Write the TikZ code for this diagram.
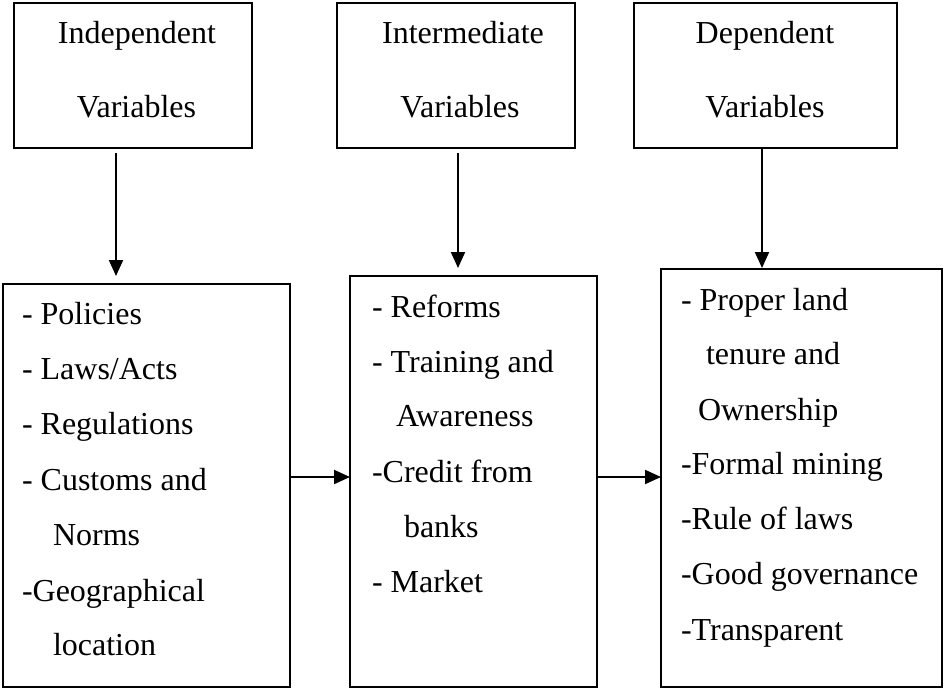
\documentclass[tikz,border=0pt]{standalone}
\usepackage{fontspec}
\setmainfont{Liberation Serif}
\usetikzlibrary{arrows.meta}
\tikzset{
  box/.style={draw=black, line width=2pt, inner sep=0pt, outer sep=0pt, fill=none},
  lbl/.style={inner sep=0pt, outer sep=0pt, font=\fontsize{32}{38}\selectfont},
  lineL/.style={lbl, anchor=base west},
  lineC/.style={lbl, anchor=base},
  arr/.style={line width=2pt, -{Triangle[length=16pt,width=14pt]}}
}
\begin{document}
\begin{tikzpicture}[x=1pt,y=-1pt]
\useasboundingbox (0,0) rectangle (944,688);
\fill[white] (0,0) rectangle (944,688);
% top boxes
\node[box, minimum width=238pt, minimum height=145pt] (T1) at (133,75.5) {};
\node[box, minimum width=238pt, minimum height=145pt] (T2) at (456,75.5) {};
\node[box, minimum width=263pt, minimum height=145pt] (T3) at (765.5,75.5) {};
% bottom boxes
\node[box, minimum width=287pt, minimum height=403pt] (B1) at (146.5,485.5) {};
\node[box, minimum width=247pt, minimum height=411pt] (B2) at (473.5,481.5) {};
\node[box, minimum width=281pt, minimum height=418pt] (B3) at (801.5,478) {};
% top texts
\node[lineC] (t1a) at (137,43) {Independent};
\node[lineC] (t1b) at (136.5,117) {Variables};
\node[lineC] (t2a) at (463,43) {Intermediate};
\node[lineC] (t2b) at (460,117) {Variables};
\node[lineC] (t3a) at (765,43) {Dependent};
\node[lineC] (t3b) at (765,117) {Variables};
% box 1 lines
\node[lineL] (b1a) at (22,324) {- Policies};
\node[lineL] (b1b) at (22,379) {- Laws/Acts};
\node[lineL] (b1c) at (22,434) {- Regulations};
\node[lineL] (b1d) at (22,490) {- Customs and};
\node[lineL] (b1e) at (53,545) {Norms};
\node[lineL] (b1f) at (22,601) {-Geographical};
\node[lineL] (b1g) at (53,655) {location};
% box 2 lines
\node[lineL] (b2a) at (372,317) {- Reforms};
\node[lineL] (b2b) at (372,372) {- Training and};
\node[lineL] (b2c) at (396,426) {Awareness};
\node[lineL] (b2d) at (372,482) {-Credit from};
\node[lineL] (b2e) at (404,537) {banks};
\node[lineL] (b2f) at (372,592) {- Market};
% box 3 lines
\node[lineL] (b3a) at (681,310) {- Proper land};
\node[lineL] (b3b) at (706,364) {tenure and};
\node[lineL] (b3c) at (698,420) {Ownership};
\node[lineL] (b3d) at (681,474) {-Formal mining};
\node[lineL] (b3e) at (681,529) {-Rule of laws};
\node[lineL] (b3f) at (681,584) {-Good governance};
\node[lineL] (b3g) at (681,640) {-Transparent};
% vertical arrows
\draw[arr, shorten <=5pt, shorten >=8pt] ([xshift=-17pt]T1.south) -- ([xshift=-17pt]T1.south |- B1.north);
\draw[arr, shorten <=5pt, shorten >=8pt] ([xshift=2pt]T2.south) -- ([xshift=2pt]T2.south |- B2.north);
\draw[arr, shorten >=1pt] ([xshift=-3.5pt]T3.south) -- ([xshift=-3.5pt]T3.south |- B3.north);
% horizontal arrows
\draw[arr] ([yshift=8.5pt]B1.east) -- ([yshift=8.5pt]B1.east -| B2.west);
\draw[arr] ([yshift=4.5pt]B2.east) -- ([yshift=4.5pt]B2.east -| B3.west);
\end{tikzpicture}
\end{document}
